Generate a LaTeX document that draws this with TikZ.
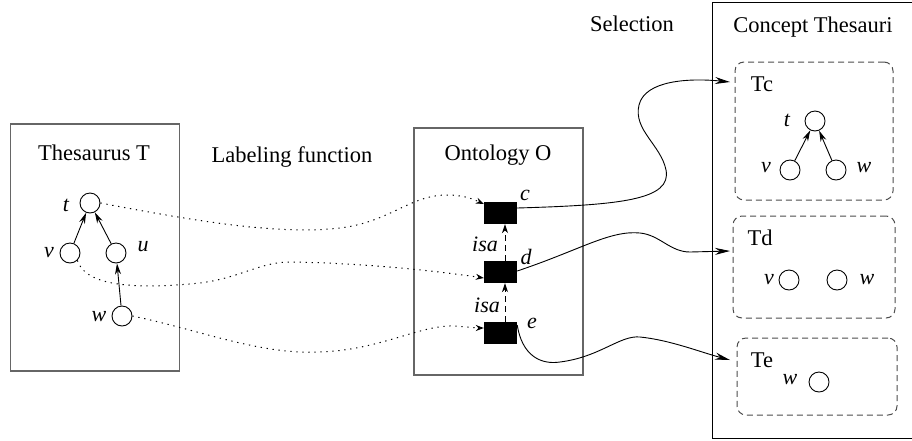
\documentclass[tikz,border=0pt]{standalone}
\usepackage{fontspec}
\setmainfont{Liberation Serif}
\usetikzlibrary{arrows.meta}
\begin{document}
\begin{tikzpicture}[x=1pt,y=-1pt,
 txt/.style={font=\fontsize{22.5}{26}\selectfont, inner sep=0},
 lab/.style={font=\fontsize{22}{26}\selectfont\itshape, inner sep=0},
 circ/.style={draw, circle, minimum size=20pt, inner sep=0, line width=0.9pt},
 sq/.style={fill=black, minimum width=33pt, minimum height=22pt, inner sep=0},
 bigbox/.style={draw=black!60, line width=1.3pt, inner sep=0},
 cbox/.style={draw=black, line width=1pt, inner sep=0},
 dbox/.style={draw=black!70, dash pattern=on 6pt off 4pt, rounded corners=9pt, line width=1pt, inner sep=0},
 treearr/.style={-{Stealth[length=11pt,width=6pt]}, line width=0.9pt},
 dotarr/.style={dash pattern=on 1.3pt off 4.7pt, line width=1pt, -{Stealth[length=8pt,width=6pt]}},
 selarr/.style={line width=0.9pt, -{Stealth[length=15pt,width=7pt]}},
 isaarr/.style={dash pattern=on 6pt off 4pt, line width=0.9pt, -{Stealth[length=9pt,width=6pt]}}
]
\useasboundingbox (0,0) rectangle (912,440);

% big boxes
\node[bigbox, minimum width=169pt, minimum height=247pt] (thes) at (95.3,247.5) {};
\node[bigbox, minimum width=169pt, minimum height=247pt] (onto) at (498.5,251.5) {};
\node[cbox, minimum width=201pt, minimum height=436pt] (conc) at (812.5,220) {};

% titles
\node[txt] (tthes) at (94,153) {Thesaurus T};
\node[txt] (tonto) at (498,155) {Ontology O};
\node[txt] (tconc) at (813,27) {Concept Thesauri};
\node[txt] (tlab) at (292,157) {Labeling function};
\node[txt] (tsel) at (632,24) {Selection};

% thesaurus tree
\node[circ] (t) at (90,203) {};
\node[circ] (v) at (70,253) {};
\node[circ] (u) at (116,253) {};
\node[circ] (w) at (122,316) {};
\node[lab] (lt) at (66,205) {t};
\node[lab] (lv) at (49,253) {v};
\node[lab] (lu) at (143,247) {u};
\node[lab] (lw) at (99,317) {w};
\draw[treearr] (v) -- (t);
\draw[treearr] (u) -- (t);
\draw[treearr] (w) -- (u);

% ontology
\node[sq] (c) at (500.5,213) {};
\node[sq] (d) at (500.5,272) {};
\node[sq] (e) at (500.5,333) {};
\node[lab] (lc) at (525,195) {c};
\node[lab] (ld) at (526,257) {d};
\node[lab] (le) at (532,323) {e};
\draw[isaarr] ([xshift=4.5pt]d.north) -- ([xshift=4.5pt]c.south);
\draw[isaarr] ([xshift=4.5pt]e.north) -- ([xshift=4.5pt]d.south);
\node[lab] (isa1) at (485,244) {isa};
\node[lab] (isa2) at (487,305) {isa};

% concept thesauri
\node[dbox, minimum width=158pt, minimum height=138pt] (tc) at (814,131) {};
\node[dbox, minimum width=162pt, minimum height=102pt] (td) at (814,267) {};
\node[dbox, minimum width=160pt, minimum height=77pt] (te) at (817,376.5) {};
\node[txt] (ltc) at (762,84) {Tc};
\node[txt] (ltd) at (760,238) {Td};
\node[txt] (lte) at (762,360) {Te};

\node[circ] (ct) at (815,121) {};
\node[circ] (cv) at (790,170) {};
\node[circ] (cw) at (836,170) {};
\node[lab] (lct) at (787,120) {t};
\node[lab] (lcv) at (766,168) {v};
\node[lab] (lcw) at (864,168) {w};
\draw[treearr] (cv) -- (ct);
\draw[treearr] (cw) -- (ct);

\node[circ] (dv) at (789,280) {};
\node[circ] (dw) at (837,280) {};
\node[lab] (ldv) at (769,280) {v};
\node[lab] (ldw) at (867,280) {w};

\node[circ] (ew) at (819,382) {};
\node[lab] (lew) at (790,380) {w};

% entry points
\coordinate (inc) at (730,82);
\coordinate (ind) at (730,251);
\coordinate (ine) at (730,360);

% selection curves
\draw[selarr] (c.east |- 0,208) .. controls (620,205) and (672,200) .. (666,170)
   .. controls (661,145) and (633,130) .. (639,105)
   .. controls (645,80) and (690,78) .. (inc);
\draw[selarr] (d.east |- 0,271) .. controls (580,250) and (610,230) .. (640,233)
   .. controls (660,235) and (670,252) .. (690,252) -- (ind);
\draw[selarr] (e.east |- 0,325) .. controls (522,355) and (540,365) .. (560,362)
   .. controls (600,357) and (620,335) .. (640,337)
   .. controls (670,340) and (700,352) .. (ine);

% labeling curves
\draw[dotarr] (t.east) .. controls (200,222) and (280,235) .. (340,228)
   .. controls (390,222) and (410,195) .. (447,195)
   .. controls (465,195) and (475,200) .. (c.west |- 0,204);
\draw[dotarr] (v.-45) .. controls (85,285) and (130,290) .. (200,283)
   .. controls (240,278) and (260,262) .. (290,262)
   .. controls (360,263) and (430,270) .. (d.west |- 0,278);
\draw[dotarr] (w.east) .. controls (200,330) and (260,355) .. (320,352)
   .. controls (380,350) and (420,325) .. (453,326)
   .. controls (470,327) and (478,328) .. (e.west |- 0,328);
\end{tikzpicture}
\end{document}
